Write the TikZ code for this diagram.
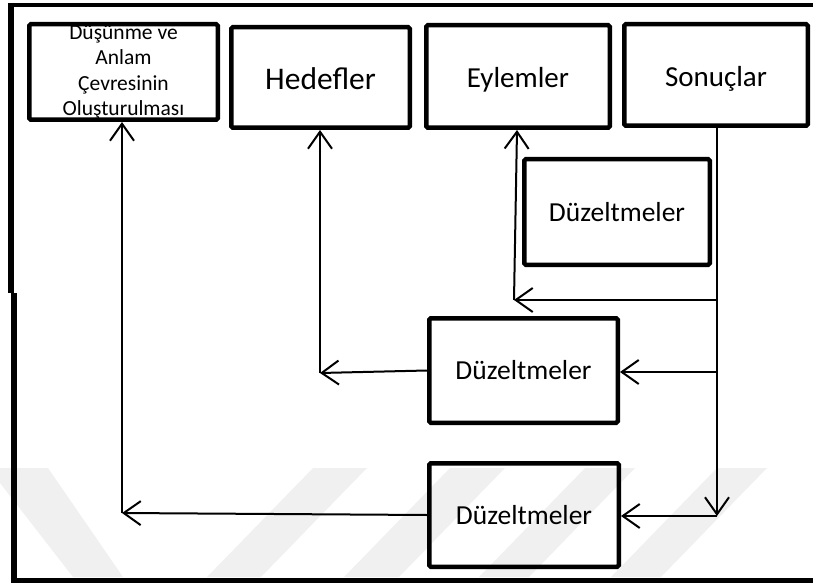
\documentclass[tikz,border=0pt]{standalone}
\usepackage{fontspec}
\setmainfont{Carlito}
\usetikzlibrary{arrows.meta}
\begin{document}
\begin{tikzpicture}[x=1pt,y=-1pt,
  box/.style={draw, line width=4.5pt, rounded corners=1.5pt, inner sep=0pt, align=center},
  bigtext/.style={font=\fontsize{29}{34}\selectfont, text height=26pt, text depth=3.4pt},
  hugetext/.style={font=\fontsize{31.5}{36}\selectfont, text height=28pt, text depth=3.7pt},
  midtext/.style={font=\fontsize{27.5}{32}\selectfont, text height=23pt, text depth=4.3pt},
  conn/.style={line width=2pt, line join=round},
  tip/.style={-{Straight Barb[length=17pt,width=24pt,line join=miter]}},
  wm/.style={fill=black!6, draw=none}]
\useasboundingbox (0,0) rectangle (813,585);

% faint background band pattern near the bottom
\fill[wm] (0,468) -- (48,468) -- (123,577) -- (73,577) -- (0,483) -- cycle;
\fill[wm] (313,468) -- (367,468) -- (261,577) -- (207,577) -- cycle;
\fill[wm] (450,468) -- (505,468) -- (399,577) -- (344,577) -- cycle;
\fill[wm] (585,468) -- (635,468) -- (529,577) -- (479,577) -- cycle;
\fill[wm] (717,468) -- (767,468) -- (661,577) -- (611,577) -- cycle;

% outer frame (open on the right)
\draw[line width=3.5pt] (9,5) -- (620,5);
\draw[line width=4.5pt] (620,5) -- (813,5);
\draw[line width=6pt] (11,3) -- (11,293);
\draw[line width=6pt] (13.5,293) -- (13.5,582);
\draw[line width=5pt] (11,580) -- (813,580);

% top row
\node[box, minimum width=188.5pt, minimum height=95.5pt,
      font=\fontsize{21.5}{24}\selectfont] (anlam) at (123.5,72)
  {Düşünme ve\\[1.5pt]Anlam\\[1.5pt]Çevresinin\\[1.5pt]Oluşturulması};
\node[box, hugetext, minimum width=178.5pt, minimum height=100.5pt] (hedef) at (320.5,77.5) {Hedefler};
\node[box, bigtext, minimum width=183.5pt, minimum height=102.5pt] (eylem) at (518,76.5) {Eylemler};
\node[box, bigtext, minimum width=183.5pt, minimum height=101.5pt] (sonuc) at (716,75) {Sonuçlar};

% correction boxes
\node[box, midtext, minimum width=185.5pt, minimum height=105.5pt] (duzA) at (617,212) {Düzeltmeler};
\node[box, midtext, minimum width=188.5pt, minimum height=104.5pt] (duzB) at (523.5,370.5) {Düzeltmeler};
\node[box, midtext, minimum width=189.5pt, minimum height=103.5pt] (duzC) at (524,515) {Düzeltmeler};

% junction points
\coordinate (s1) at (717,300);
\coordinate (s2) at (717,372);
\coordinate (s3) at (717,516);
\coordinate (e1) at (514,300);
\coordinate (h1) at (320,373);
\coordinate (a1) at (122,513);

% feedback lines from the results
\draw[conn, tip] (sonuc.south -| s3) -- (s3);
\draw[conn, tip] (s1) -- (e1);
\draw[conn, tip] (e1) -- ([xshift=-1pt]eylem.south);
\draw[conn, tip] (s2) -- (s2 -| duzB.east);
\draw[conn, tip] (duzB.west) -- (h1);
\draw[conn, tip] (h1) -- (hedef.south -| h1);
\draw[conn, tip] (s3) -- (s3 -| duzC.east);
\draw[conn, tip] (duzC.west) -- (a1);
\draw[conn, tip] (a1) -- (anlam.south -| a1);
\end{tikzpicture}
\end{document}
